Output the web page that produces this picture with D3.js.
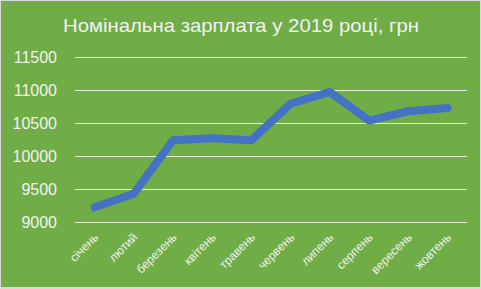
<!DOCTYPE html>
<html><head><meta charset="utf-8">
<script src="https://cdn.jsdelivr.net/npm/d3@7"></script>
<style>html,body{margin:0;padding:0;background:#d9d9d9;}svg{display:block;}</style>
</head><body>
<script>
const months = ["січень","лютий","березень","квітень","травень","червень","липень","серпень","вересень","жовтень"];
const wages = [9223, 9429, 10237, 10269, 10239, 10791, 10971, 10537, 10678, 10727];
const yTicks = [9000, 9500, 10000, 10500, 11000, 11500];
const titleText = "Номінальна зарплата у 2019 році, грн";

const W = 481, H = 289;
const svg = d3.select("body").append("svg").attr("width", W).attr("height", H);
svg.append("rect").attr("x",0.5).attr("y",0.5).attr("width",W-1).attr("height",H-2)
  .attr("fill","#70ad47").attr("stroke","#d9d9d9").attr("stroke-width",1);

const x = d3.scalePoint().domain(months).range([75, 467]).padding(0.5);
const y = d3.scaleLinear().domain([9000, 11500]).range([222, 57]);

svg.append("text").attr("x", 241).attr("y", 32).attr("text-anchor","middle")
  .attr("font-family","'Liberation Sans', Arial, sans-serif").attr("font-size",19)
  .attr("fill","#f2f2f2").attr("textLength",356).attr("lengthAdjust","spacingAndGlyphs")
  .text(titleText);

const yAxis = d3.axisLeft(y).tickValues(yTicks).tickSize(-392).tickPadding(18).tickFormat(d3.format("d"));
const gy = svg.append("g").attr("transform","translate(75,0)").call(yAxis);
gy.select(".domain").remove();
gy.selectAll(".tick line").attr("stroke","#e2efd9").attr("stroke-width",1);
gy.selectAll(".tick text").attr("fill","#f2f2f2").attr("font-size",16)
  .attr("font-family","'Liberation Sans', Arial, sans-serif");

const xAxis = d3.axisBottom(x).tickSize(0).tickPadding(0);
const gx = svg.append("g").attr("transform","translate(0,222)").call(xAxis);
gx.select(".domain").remove();
gx.selectAll(".tick text").attr("fill","#f2f2f2").attr("font-size",12)
  .attr("font-family","'Liberation Sans', Arial, sans-serif")
  .attr("text-anchor","end").attr("dy",0)
  .attr("transform","translate(4,16) rotate(-45)");

const line = d3.line().x((d,i)=>x(months[i])).y(d=>y(d));
svg.append("path").datum(wages).attr("d", line).attr("fill","none")
  .attr("stroke","#4472c4").attr("stroke-width",8)
  .attr("stroke-linecap","round").attr("stroke-linejoin","round");
</script>
</body></html>
